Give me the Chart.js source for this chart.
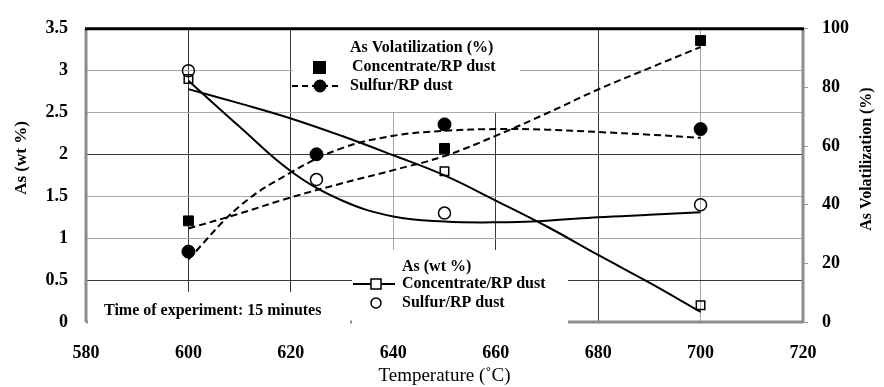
<!DOCTYPE html>
<html>
<head>
<meta charset="utf-8">
<script src="https://cdn.jsdelivr.net/npm/chart.js@4"></script>
<style>
  html, body { margin: 0; padding: 0; background: #fff; }
  #wrap { width: 884px; height: 387px; position: relative; }
</style>
</head>
<body>
<div id="wrap"><canvas id="asChart"></canvas></div>
<script>
// temperatures (°C) of the measured points
const concTemps = [600, 650, 700];
const sulfTemps = [600, 625, 650, 700];

// As (wt %) – left axis
const concAs = [2.9, 1.8, 0.2];
const sulfAs = [3.0, 1.7, 1.3, 1.4];

// As volatilization (%) – right axis
const concVol = [34.5, 59.2, 96.0];
const sulfVol = [24.0, 57.2, 67.4, 65.8];

// trend lines
const trendTemps = [600, 610, 620, 630, 640, 650, 660, 670, 680, 690, 700];
const concAsTrend = [2.78, 2.61, 2.43, 2.22, 1.99, 1.75, 1.45, 1.14, 0.80, 0.47, 0.12];
const sulfAsTrend = [2.88, 2.33, 1.80, 1.45, 1.26, 1.20, 1.19, 1.21, 1.25, 1.28, 1.31];
const concVolTrend = [31.9, 37.0, 42.5, 47.3, 51.8, 56.6, 63.5, 71.2, 79.3, 86.6, 93.8];
const sulfVolTrend = [21.4, 39.5, 51.0, 59.3, 63.5, 65.2, 65.8, 65.6, 64.8, 63.9, 62.8];

// tick labels
const xTicks = [580, 600, 620, 640, 660, 680, 700, 720];
const leftDark = [0.5, 2.0];
const xDark = [600, 620, 660, 680];

const pts = (xs, ys) => xs.map((x, i) => ({ x: x, y: ys[i] }));
const serif = 'Liberation Serif, Times New Roman, serif';

const frameAndLegends = {
    id: 'frameAndLegends',
    beforeDatasetsDraw(chart) {
        const { ctx, chartArea: a } = chart;
        ctx.save();
        ctx.lineWidth = 3;
        ctx.strokeStyle = '#8c8c8c';
        ctx.beginPath();
        ctx.moveTo(a.left, a.top); ctx.lineTo(a.left, a.bottom);
        ctx.moveTo(a.right, a.top); ctx.lineTo(a.right, a.bottom);
        ctx.moveTo(a.left, a.bottom); ctx.lineTo(a.right, a.bottom);
        ctx.stroke();
        ctx.restore();
    },
    afterDatasetsDraw(chart) {
        const { ctx, chartArea: a } = chart;
        ctx.save();
        ctx.fillStyle = '#fff';
        ctx.fillRect(293, 26, 227, 86);   // volatilization legend
        ctx.fillRect(352, 250, 216, 80);  // wt % legend
        ctx.fillRect(88, 292, 262, 38);   // note

        // thick top border
        ctx.strokeStyle = '#000';
        ctx.lineWidth = 3;
        ctx.beginPath();
        ctx.moveTo(a.left - 1, a.top); ctx.lineTo(a.right + 1, a.top);
        ctx.stroke();

        ctx.fillStyle = '#000';
        ctx.font = 'bold 16px ' + serif;
        ctx.textBaseline = 'middle';
        ctx.textAlign = 'left';

        // As Volatilization legend
        ctx.fillText('As Volatilization (%)', 350, 48);
        ctx.fillText('Concentrate/RP dust', 352, 67);
        ctx.fillText('Sulfur/RP dust', 350, 86);
        ctx.fillRect(313, 61, 13, 13);
        ctx.lineWidth = 2;
        ctx.setLineDash([6, 4]);
        ctx.beginPath();
        ctx.moveTo(292, 86); ctx.lineTo(342, 86);
        ctx.stroke();
        ctx.setLineDash([]);
        ctx.beginPath();
        ctx.arc(320, 86, 6.5, 0, Math.PI * 2);
        ctx.fill();

        // As (wt %) legend
        ctx.fillText('As (wt %)', 402, 267);
        ctx.fillText('Concentrate/RP dust', 402, 284);
        ctx.fillText('Sulfur/RP dust', 402, 303);
        ctx.lineWidth = 2;
        ctx.beginPath();
        ctx.moveTo(353, 284); ctx.lineTo(395, 284);
        ctx.stroke();
        ctx.fillStyle = '#fff';
        ctx.fillRect(371, 279, 10, 10);
        ctx.lineWidth = 1.5;
        ctx.strokeRect(371, 279, 10, 10);
        ctx.beginPath();
        ctx.arc(376, 303, 5, 0, Math.PI * 2);
        ctx.stroke();

        ctx.fillStyle = '#000';
        ctx.fillText('Time of experiment: 15 minutes', 104, 311);

        // axis titles, both reading bottom to top
        ctx.textAlign = 'center';
        ctx.font = 'bold 17px ' + serif;
        ctx.translate(22, 158);
        ctx.rotate(-Math.PI / 2);
        ctx.fillText('As (wt %)', 0, 0);
        ctx.setTransform(1, 0, 0, 1, 0, 0);
        ctx.font = 'bold 16px ' + serif;
        ctx.translate(867, 159);
        ctx.rotate(-Math.PI / 2);
        ctx.fillText('As Volatilization (%)', 0, 0);
        ctx.restore();
    }
};

const ctx = document.getElementById('asChart').getContext('2d');

new Chart(ctx, {
    type: 'scatter',
    data: {
        datasets: [
            {
                label: 'As (wt %) Concentrate/RP dust',
                data: pts(concTemps, concAs),
                yAxisID: 'y',
                pointStyle: 'rect',
                pointRadius: 6,
                borderColor: '#000',
                backgroundColor: 'rgba(0,0,0,0)',
                borderWidth: 1.5
            },
            {
                label: 'As (wt %) Sulfur/RP dust',
                data: pts(sulfTemps, sulfAs),
                yAxisID: 'y',
                pointStyle: 'circle',
                pointRadius: 6,
                borderColor: '#000',
                backgroundColor: 'rgba(0,0,0,0)',
                borderWidth: 1.5
            },
            {
                label: 'Volatilization Concentrate/RP dust',
                data: pts(concTemps, concVol),
                yAxisID: 'y1',
                pointStyle: 'rect',
                pointRadius: 7,
                borderColor: '#000',
                backgroundColor: '#000'
            },
            {
                label: 'Volatilization Sulfur/RP dust',
                data: pts(sulfTemps, sulfVol),
                yAxisID: 'y1',
                pointStyle: 'circle',
                pointRadius: 6.5,
                borderColor: '#000',
                backgroundColor: '#000'
            },
            {
                label: 'trend conc wt',
                data: pts(trendTemps, concAsTrend),
                yAxisID: 'y',
                showLine: true,
                pointRadius: 0,
                borderColor: '#000',
                borderWidth: 2,
                tension: 0.4
            },
            {
                label: 'trend sulf wt',
                data: pts(trendTemps, sulfAsTrend),
                yAxisID: 'y',
                showLine: true,
                pointRadius: 0,
                borderColor: '#000',
                borderWidth: 2,
                tension: 0.4
            },
            {
                label: 'trend conc vol',
                data: pts(trendTemps, concVolTrend),
                yAxisID: 'y1',
                showLine: true,
                pointRadius: 0,
                borderColor: '#000',
                borderWidth: 2,
                borderDash: [7, 4],
                tension: 0.4
            },
            {
                label: 'trend sulf vol',
                data: pts(trendTemps, sulfVolTrend),
                yAxisID: 'y1',
                showLine: true,
                pointRadius: 0,
                borderColor: '#000',
                borderWidth: 2,
                borderDash: [7, 4],
                tension: 0.4
            }
        ]
    },
    options: {
        responsive: true,
        maintainAspectRatio: false,
        animation: false,
        layout: { padding: { top: 18, left: 0, right: 0, bottom: 0 } },
        plugins: {
            legend: { display: false },
            tooltip: { enabled: false }
        },
        scales: {
            x: {
                type: 'linear',
                min: 580,
                max: 720,
                afterBuildTicks: (scale) => { scale.ticks = xTicks.map(v => ({ value: v })); },
                afterFit: (scale) => { scale.height = 65; },
                grid: {
                    drawTicks: false,
                    color: (c) => xDark.includes(c.tick && c.tick.value) ? '#3a3a3a' : '#a8a8a8',
                    lineWidth: 1
                },
                border: { display: false },
                ticks: {
                    padding: 21,
                    color: '#000',
                    font: { family: serif, size: 18, weight: 'bold' }
                },
                title: {
                    display: true,
                    text: 'Temperature (˚C)',
                    color: '#000',
                    padding: { top: 0, bottom: 0 },
                    font: { family: serif, size: 19 }
                }
            },
            y: {
                position: 'left',
                min: 0,
                max: 3.5,
                afterFit: (scale) => { scale.width = 86; },
                grid: {
                    drawTicks: false,
                    color: (c) => leftDark.includes(c.tick && c.tick.value) ? '#3a3a3a' : '#a8a8a8',
                    lineWidth: 1
                },
                border: { display: false },
                ticks: {
                    stepSize: 0.5,
                    padding: 18,
                    color: '#000',
                    font: { family: serif, size: 18, weight: 'bold' },
                    callback: (v) => String(v)
                }
            },
            y1: {
                position: 'right',
                min: 0,
                max: 100,
                afterFit: (scale) => { scale.width = 81; },
                grid: {
                    drawOnChartArea: false,
                    drawTicks: true,
                    tickLength: 5,
                    color: '#999'
                },
                border: { display: false },
                ticks: {
                    stepSize: 20,
                    padding: 14,
                    color: '#000',
                    font: { family: serif, size: 18, weight: 'bold' }
                }
            }
        }
    },
    plugins: [frameAndLegends]
});
</script>
</body>
</html>
